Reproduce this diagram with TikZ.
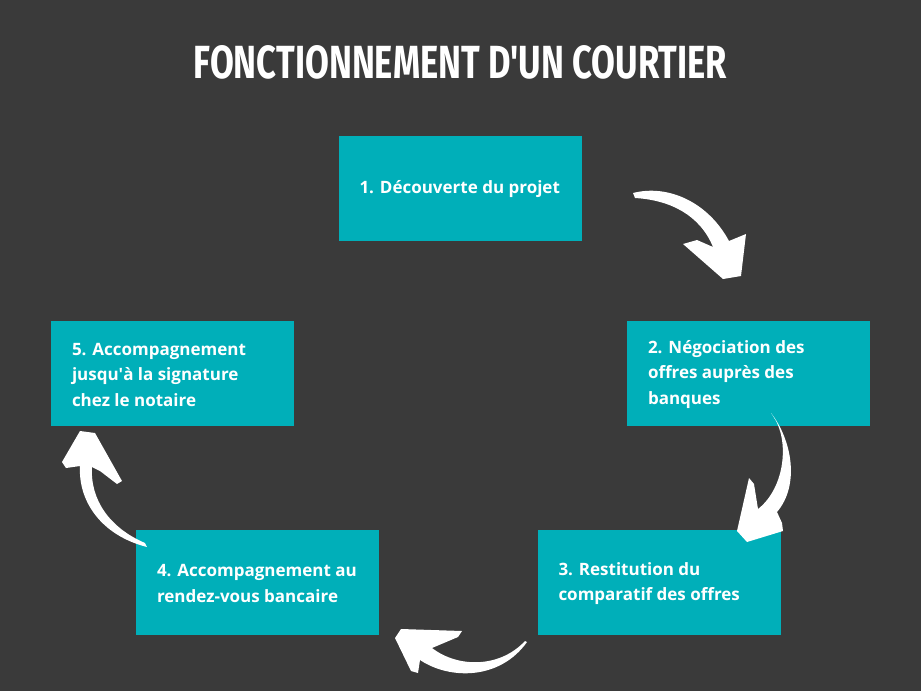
\documentclass[tikz,border=0pt]{standalone}
\usepackage{fontspec}
\usepackage{graphicx}
\setmainfont{Open Sans}
\newfontfamily\titlefont{Fira Sans}
\definecolor{bg}{HTML}{3A3A3A}
\definecolor{teal}{HTML}{00AFB9}
\tikzset{
  stepbox/.style={fill=teal, draw=none, minimum width=243pt, minimum height=105pt, inner sep=0pt},
  boxtext/.style={anchor=west, text=white, align=left, inner sep=0pt, yshift=-1pt, font=\fontsize{17}{25.5}\selectfont\bfseries},
  curvearrow/.style={fill=white, draw=none}
}
\begin{document}
\begin{tikzpicture}[x=1pt,y=-1pt]
\fill[bg] (0,0) rectangle (921,691);
\useasboundingbox (0,0) rectangle (921,691);
% title
\node[anchor=base, text=white, inner sep=0pt] (title) at (460.5,78)
  {\resizebox{533pt}{33pt}{\titlefont\bfseries FONCTIONNEMENT D\textquotesingle UN COURTIER}};
% boxes
\node[stepbox] (b1) at (460,188.5) {};
\node[stepbox] (b2) at (748.5,373.5) {};
\node[stepbox] (b3) at (659,582.5) {};
\node[stepbox] (b4) at (257.5,582.5) {};
\node[stepbox] (b5) at (172.5,373.5) {};
\node[boxtext] (t1) at ([xshift=21pt]b1.west) {1. Découverte du projet};
\node[boxtext] (t2) at ([xshift=21pt]b2.west) {2. Négociation des\\offres auprès des\\banques};
\node[boxtext] (t3) at ([xshift=21pt]b3.west) {3. Restitution du\\comparatif des offres};
\node[boxtext] (t4) at ([xshift=21pt]b4.west) {4. Accompagnement au\\rendez-vous bancaire};
\node[boxtext] (t5) at ([xshift=21pt]b5.west) {5. Accompagnement\\jusqu\textquotesingle à la signature\\chez le notaire};
% arrow 1 -> 2
\fill[curvearrow] (633,193) .. controls (668,184) and (708,202) .. (729,241)
  -- (746,234) -- (741,276) -- (723,279) -- (683,244) -- (697,240) -- (713,247)
  .. controls (700,215) and (670,200) .. (635,198) -- cycle;
% arrow 2 -> 3
\fill[curvearrow] (771,413) .. controls (792,440) and (800,485) .. (777,512)
  -- (782,523) -- (783,531) -- (747,542) -- (737,531) -- (749,478) -- (754,484) -- (758,509)
  .. controls (785,488) and (790,440) .. (773,416) -- cycle;
% arrow 3 -> 4
\fill[curvearrow] (527,642) .. controls (500,680) and (450,680) .. (420,660)
  -- (418,673) -- (411,671) -- (395,638) -- (401,629) -- (462,631) -- (458,637) -- (432,648)
  .. controls (458,668) and (500,668) .. (525,641) -- cycle;
% arrow 4 -> 5
\fill[curvearrow] (147,547) .. controls (100,535) and (78,500) .. (80,466)
  -- (66,468) -- (62,462) -- (80,431) -- (95,433) -- (122,481) -- (117,484) -- (100,471) -- (92,467)
  .. controls (90,500) and (110,528) .. (145,543) -- cycle;
\end{tikzpicture}
\end{document}
